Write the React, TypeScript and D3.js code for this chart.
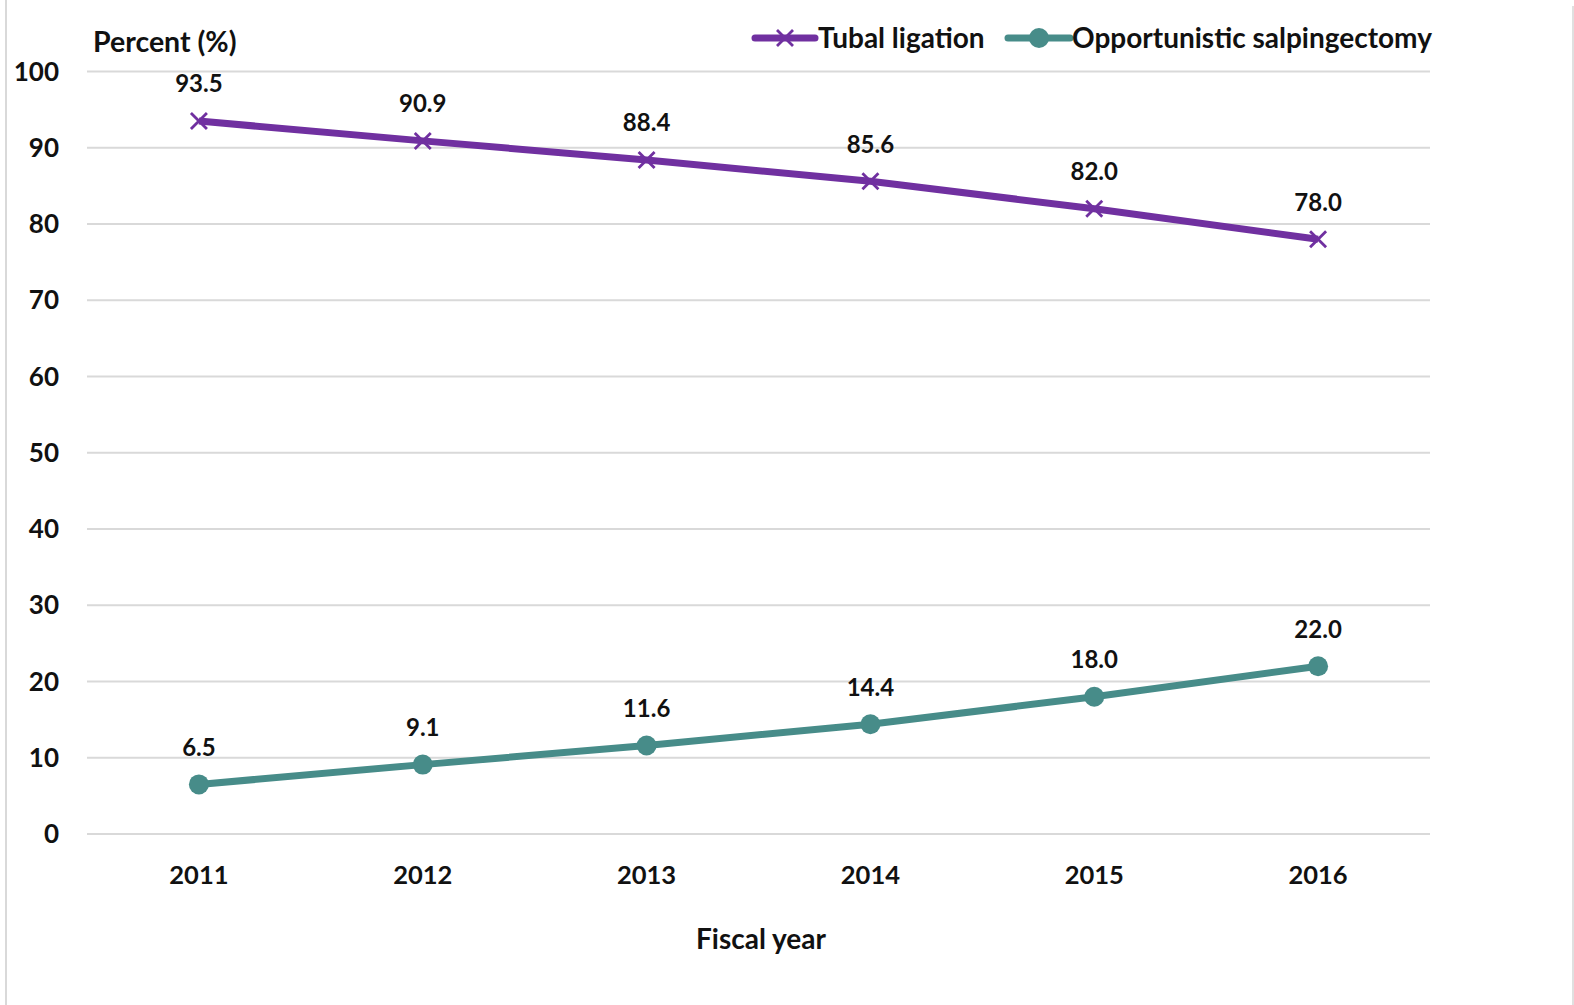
import React from "react";
import * as d3 from "d3";

const years = ["2011", "2012", "2013", "2014", "2015", "2016"];
const tubalLigation = [93.5, 90.9, 88.4, 85.6, 82.0, 78.0];
const salpingectomy = [6.5, 9.1, 11.6, 14.4, 18.0, 22.0];
const yTicks = [0, 10, 20, 30, 40, 50, 60, 70, 80, 90, 100];
const seriesNames = ["Tubal ligation", "Opportunistic salpingectomy"];

const W = 1574;
const H = 1005;
const PURPLE = "#7030A0";
const TEAL = "#478C89";
const FONT = "Lato, 'Open Sans', sans-serif";

function XMark({ x, y, s, color }: { x: number; y: number; s: number; color: string }) {
  return (
    <path
      d={`M${x - s},${y - s}L${x + s},${y + s}M${x - s},${y + s}L${x + s},${y - s}`}
      stroke={color}
      strokeWidth={2.8}
      fill="none"
    />
  );
}

export default function App() {
  const left = 87;
  const right = 1430;
  const x = d3.scaleBand<string>().domain(years).range([left, right]).paddingInner(0).paddingOuter(0);
  const y = d3.scaleLinear().domain([0, 100]).range([834, 71.5]);
  const cx = (d: string) => (x(d) as number) + x.bandwidth() / 2;
  const line = d3
    .line<number>()
    .x((_, i) => cx(years[i]))
    .y((v) => y(v));

  return (
    <svg
      width={W}
      height={H}
      style={{ position: "absolute", left: 0, top: 0, background: "#fff" }}
      fontFamily={FONT}
    >
      <line x1={6} x2={6} y1={0} y2={H} stroke="#d9d9d9" strokeWidth={2} />
      <line x1={1573} x2={1573} y1={6} y2={H} stroke="#e0e0e0" strokeWidth={2} />

      {yTicks.map((t) => (
        <g key={t}>
          <line x1={left} x2={right} y1={y(t)} y2={y(t)} stroke="#d9d9d9" strokeWidth={2} />
          <text x={59} y={y(t)} dy="0.35em" textAnchor="end" fontSize={26} fontWeight={700} fill="#111">
            {t}
          </text>
        </g>
      ))}

      {years.map((yr) => (
        <text key={yr} x={cx(yr)} y={875} dy="0.35em" textAnchor="middle" fontSize={25.5} fontWeight={700} fill="#111">
          {yr}
        </text>
      ))}

      <text x={93} y={42} dy="0.35em" fontSize={28.5} fontWeight={700} fill="#111">
        Percent (%)
      </text>
      <text x={761} y={939} dy="0.35em" textAnchor="middle" fontSize={28} fontWeight={700} fill="#111">
        Fiscal year
      </text>

      <path d={line(tubalLigation) || ""} fill="none" stroke={PURPLE} strokeWidth={7} strokeLinejoin="round" />
      {tubalLigation.map((v, i) => (
        <g key={i}>
          <XMark x={cx(years[i])} y={y(v)} s={8} color={PURPLE} />
          <text x={cx(years[i])} y={y(v) - 37} dy="0.35em" textAnchor="middle" fontSize={24} fontWeight={700} fill="#111">
            {v.toFixed(1)}
          </text>
        </g>
      ))}

      <path d={line(salpingectomy) || ""} fill="none" stroke={TEAL} strokeWidth={7} strokeLinejoin="round" />
      {salpingectomy.map((v, i) => (
        <g key={i}>
          <circle cx={cx(years[i])} cy={y(v)} r={10} fill={TEAL} />
          <text x={cx(years[i])} y={y(v) - 37} dy="0.35em" textAnchor="middle" fontSize={24} fontWeight={700} fill="#111">
            {v.toFixed(1)}
          </text>
        </g>
      ))}

      {/* Legend */}
      <g>
        <line x1={755} x2={815} y1={38} y2={38} stroke={PURPLE} strokeWidth={7} strokeLinecap="round" />
        <XMark x={785} y={38} s={8} color={PURPLE} />
        <text x={818} y={38} dy="0.35em" fontSize={28} fontWeight={700} fill="#111">
          {seriesNames[0]}
        </text>
        <line x1={1008} x2={1070} y1={38} y2={38} stroke={TEAL} strokeWidth={7} strokeLinecap="round" />
        <circle cx={1039} cy={38} r={10} fill={TEAL} />
        <text x={1072} y={38} dy="0.35em" fontSize={28} fontWeight={700} fill="#111">
          {seriesNames[1]}
        </text>
      </g>
    </svg>
  );
}
